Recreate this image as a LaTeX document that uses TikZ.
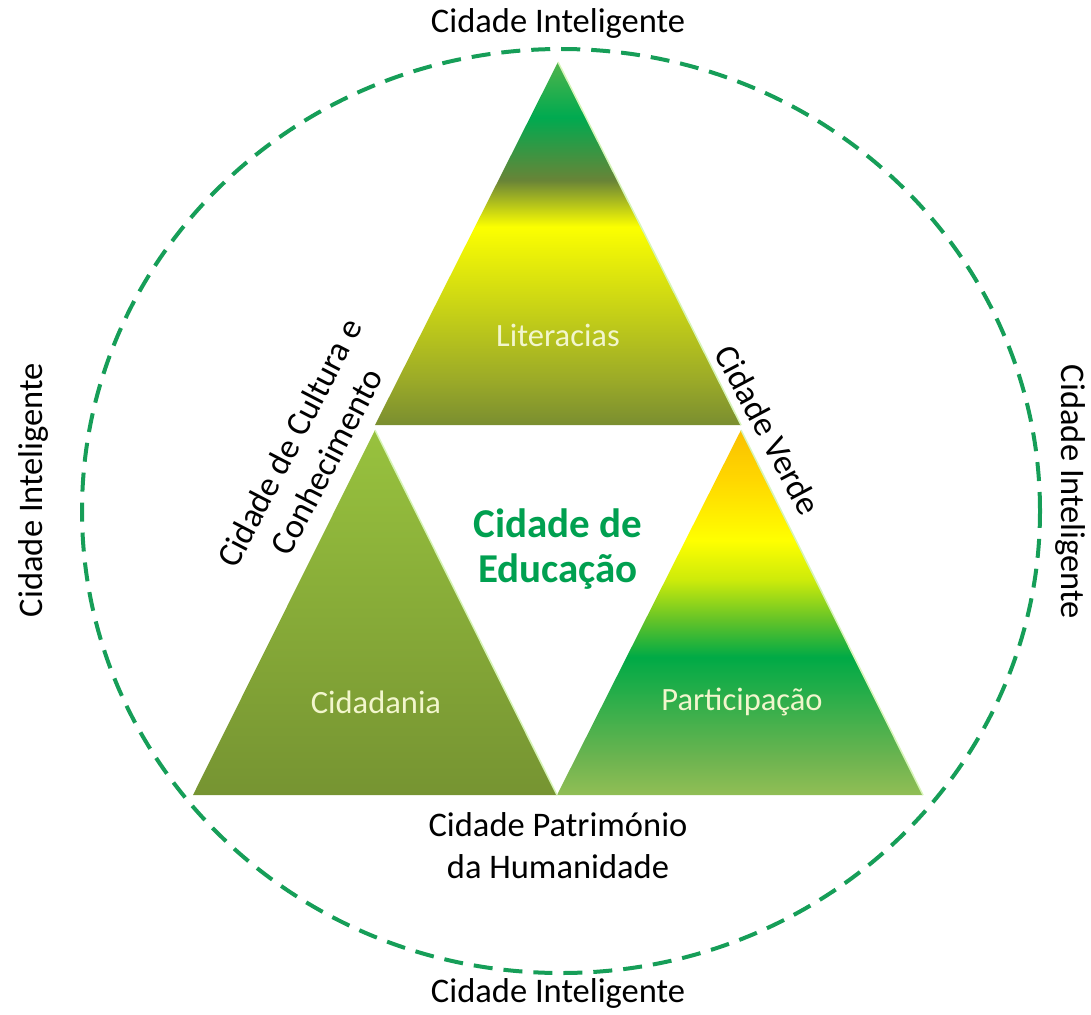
\documentclass[tikz,border=0pt]{standalone}
\usepackage{fontspec}
\setmainfont{Carlito}
\usepackage{tikz}
\usetikzlibrary{positioning}

\definecolor{dashgreen}{RGB}{22,158,88}
\definecolor{edugreen}{RGB}{0,160,80}
\definecolor{textcream}{RGB}{242,246,205}
\definecolor{glow}{RGB}{215,245,185}
% top triangle
\definecolor{litA}{RGB}{122,142,48}
\definecolor{litB}{RGB}{155,170,40}
\definecolor{litC}{RGB}{205,215,20}
\definecolor{litD}{RGB}{252,255,0}
\definecolor{litE}{RGB}{105,132,55}
\definecolor{litF}{RGB}{0,170,80}
\definecolor{litG}{RGB}{80,180,75}
% left triangle
\definecolor{citA}{RGB}{118,148,50}
\definecolor{citB}{RGB}{152,194,62}
% right triangle
\definecolor{parA}{RGB}{145,190,85}
\definecolor{parB}{RGB}{110,180,80}
\definecolor{parC}{RGB}{0,170,70}
\definecolor{parD}{RGB}{100,195,40}
\definecolor{parE}{RGB}{205,235,10}
\definecolor{parF}{RGB}{255,255,0}
\definecolor{parG}{RGB}{255,215,0}
\definecolor{parH}{RGB}{250,192,0}

\pgfdeclareverticalshading{literacias}{100bp}{color(0bp)=(litA); color(25bp)=(litA); color(31.2bp)=(litB); color(42.2bp)=(litC); color(52.3bp)=(litD); color(58.7bp)=(litE); color(67.4bp)=(litF); color(75bp)=(litG); color(100bp)=(litG)}
\pgfdeclareverticalshading{cidadania}{100bp}{color(0bp)=(citA); color(25bp)=(citA); color(75bp)=(citB); color(100bp)=(citB)}
\pgfdeclareverticalshading{participacao}{100bp}{color(0bp)=(parA); color(25bp)=(parA); color(29.8bp)=(parB); color(43.9bp)=(parC); color(49bp)=(parD); color(54.5bp)=(parE); color(59.9bp)=(parF); color(68.2bp)=(parG); color(75bp)=(parH); color(100bp)=(parH)}

\begin{document}
\begin{tikzpicture}[x=1pt, y=-1pt,
    outerlabel/.style={font=\fontsize{34.5}{42}\selectfont, align=center, text=black, inner sep=0pt},
    innerlabel/.style={font=\fontsize{32.5}{38}\selectfont, text=textcream, inner sep=0pt},
    centrelabel/.style={font=\fontsize{41}{45}\selectfont\bfseries, align=center, text=edugreen, inner sep=0pt},
    edgeglow/.style={draw=glow, line width=1.5pt},
    dashring/.style={draw=dashgreen, line width=4pt, dash pattern=on 19pt off 11pt}]
    \useasboundingbox (0,0) rectangle (1091,1014);
    % Triangles
    \coordinate (topapex) at (558,62);
    \coordinate (topleft) at (375,425);
    \coordinate (topright) at (741,425);
    \coordinate (leftapex) at (375,430);
    \coordinate (leftbase) at (193,795);
    \coordinate (midbase) at (557,795);
    \coordinate (rightapex) at (741,430);
    \coordinate (rightbase) at (923,795);
    \shade[shading=literacias] (topapex) -- (topright) -- (topleft) -- cycle;
    \shade[shading=cidadania] (leftapex) -- (midbase) -- (leftbase) -- cycle;
    \shade[shading=participacao] (rightapex) -- (rightbase) -- (midbase) -- cycle;
    \draw[edgeglow] (topapex) -- (topright);
    \draw[edgeglow] (leftapex) -- (midbase);
    \draw[edgeglow] (rightapex) -- (rightbase);
    % Ring
    \draw[dashring] (561,511) ellipse [x radius=479pt, y radius=462pt];
    % Labels
    \node[outerlabel] (topcity) at (558,23) {Cidade Inteligente};
    \node[outerlabel] (bottomcity) at (558,993) {Cidade Inteligente};
    \node[outerlabel, rotate=90] (leftcity) at (33,490) {Cidade Inteligente};
    \node[outerlabel, rotate=-90] (rightcity) at (1070,492) {Cidade Inteligente};
    \node[outerlabel] (heritage) at (558,846) {Cidade Património\\da Humanidade};
    \node[outerlabel, rotate=62.5] (culture) at (308,452) {Cidade de Cultura e\\Conhecimento};
    \node[outerlabel, rotate=-62] (greencity) at (768,430) {Cidade Verde};
    \node[innerlabel] (literacy) at (558,335) {Literacias};
    \node[innerlabel] (citizenship) at (376,702) {Cidadania};
    \node[innerlabel] (participation) at (742,702) {Participação};
    \node[centrelabel] (education) at (558,549) {Cidade de\\Educação};
\end{tikzpicture}
\end{document}
